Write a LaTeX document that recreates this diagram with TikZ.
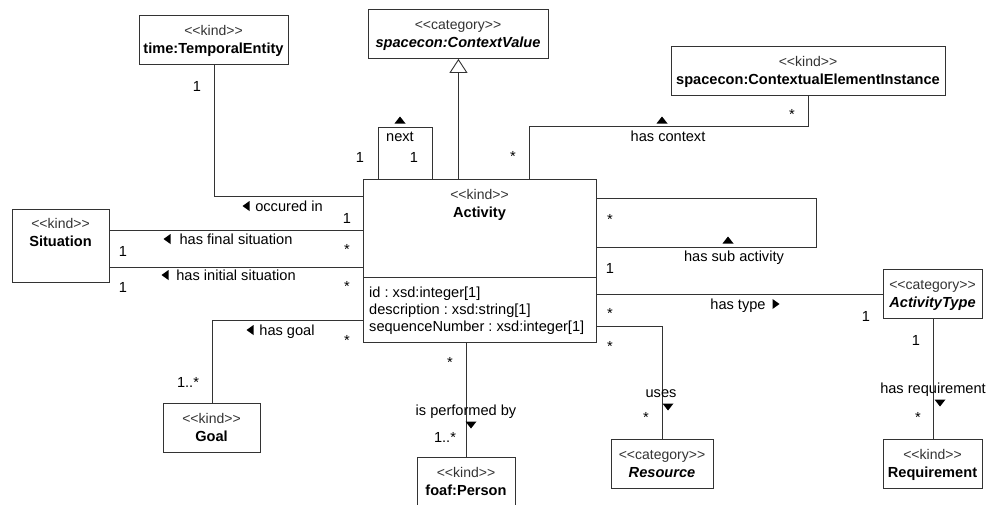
\documentclass[tikz,border=0pt]{standalone}
\usepackage{fontspec}
\setmainfont{Liberation Sans}[Ligatures=TeXOff]
\usetikzlibrary{arrows.meta}
\definecolor{ln}{HTML}{333333}
\frenchspacing
\begin{document}
\begin{tikzpicture}[x=1pt,y=-1pt,font=\fontsize{14.6}{17}\selectfont,
  box/.style={draw=ln,line width=0.9pt,fill=white,inner sep=0pt,anchor=north west},
  base/.style={inner sep=0pt,anchor=mid},
  lbl/.style={base,yshift=-2.5pt},
  st/.style={lbl,text=black!80,font=\fontsize{14}{17}\selectfont},
  nm/.style={lbl,font=\fontsize{14.6}{17}\selectfont\bfseries},
  nmi/.style={lbl,font=\fontsize{14.6}{17}\selectfont\bfseries\itshape},
  star/.style={base,yshift=-4pt},
  conn/.style={draw=ln,line width=0.9pt},
  uptri/.pic={\fill (0,-3.5) -- (-5.5,3.5) -- (5.5,3.5) -- cycle;},
  dntri/.pic={\fill (0,3.5) -- (-5.5,-3.5) -- (5.5,-3.5) -- cycle;},
  lftri/.pic={\fill (-3.5,0) -- (3.5,-5) -- (3.5,5) -- cycle;},
  rttri/.pic={\fill (3.5,0) -- (-3.5,-5) -- (-3.5,5) -- cycle;}
]
\clip (0,0) rectangle (990,504);
\fill[white] (0,0) rectangle (990,504);

% ---------- boxes ----------
\node[box,minimum width=149pt,minimum height=49pt] (time) at (139,15) {};
\node[st] at (213.5,30) {<<kind>>};
\node[nm] at (213.5,48) {time:TemporalEntity};

\node[box,minimum width=180pt,minimum height=49pt] (cv) at (368,9) {};
\node[st] at (458,24) {<<category>>};
\node[nmi] at (458,42) {spacecon:ContextValue};

\node[box,minimum width=274pt,minimum height=49pt] (cei) at (671,46) {};
\node[st] at (808,61) {<<kind>>};
\node[nm] at (808,79) {spacecon:ContextualElementInstance};

\node[box,minimum width=233pt,minimum height=163pt] (act) at (363,179) {};
\draw[conn] (act.west |- 0,277) -- (act.east |- 0,277);
\node[st] at (479.5,194) {<<kind>>};
\node[nm] at (479.5,212) {Activity};
\node[lbl,anchor=mid west] at (369,292) {id : xsd:integer[1]};
\node[lbl,anchor=mid west] at (369,309) {description : xsd:string[1]};
\node[lbl,anchor=mid west] at (369,326) {sequenceNumber : xsd:integer[1]};

\node[box,minimum width=97pt,minimum height=73pt] (sit) at (12,209) {};
\node[st] at (60.5,223) {<<kind>>};
\node[nm] at (60.5,241) {Situation};

\node[box,minimum width=97pt,minimum height=49pt] (goal) at (163,403) {};
\node[st] at (211.5,418) {<<kind>>};
\node[nm] at (211.5,436) {Goal};

\node[box,minimum width=98pt,minimum height=55pt] (per) at (417,457) {};
\node[st] at (466,472) {<<kind>>};
\node[nm] at (466,490) {foaf:Person};

\node[box,minimum width=102pt,minimum height=49pt] (res) at (611,439) {};
\node[st] at (662,454) {<<category>>};
\node[nmi] at (662,472) {Resource};

\node[box,minimum width=99pt,minimum height=49pt] (at) at (883,269) {};
\node[st] at (932.5,284) {<<category>>};
\node[nmi] at (932.5,302) {ActivityType};

\node[box,minimum width=99pt,minimum height=49pt] (req) at (883,439) {};
\node[st] at (932.5,454) {<<kind>>};
\node[nm] at (932.5,472) {Requirement};

% ---------- connectors ----------
% generalization
\draw[conn,-{Triangle[open,width=18pt,length=14pt,fill=white]}] (act.north -| cv.south) -- (cv.south);

% next (self loop)
\draw[conn] (act.north -| 378,0) -- (378,127) -- (432,127) -- (act.north -| 432,0);
\pic at (400,120) {uptri};
\node[lbl] at (400,136) {next};
\node[lbl] at (360,157) {1};
\node[lbl] at (414,157) {1};

% occured in
\draw[conn] (time.south) |- (act.west |- 0,196);
\node[lbl] at (197,86) {1};
\pic at (246,206) {lftri};
\node[lbl] at (289,206) {occured in};
\node[lbl] at (347,218) {1};

% has final situation
\draw[conn] (sit.east |- 0,230) -- (act.west |- 0,230);
\pic at (167,239) {lftri};
\node[lbl] at (236,239) {has final situation};
\node[lbl] at (123,251) {1};
\node[star] at (347,248) {*};

% has initial situation
\draw[conn] (sit.east |- 0,267) -- (act.west |- 0,267);
\pic at (165,275) {lftri};
\node[lbl] at (236,275) {has initial situation};
\node[lbl] at (123,287) {1};
\node[star] at (347,285) {*};

% has goal
\draw[conn] (act.west |- 0,320) -| (goal.north);
\pic at (250,330) {lftri};
\node[lbl] at (287,330) {has goal};
\node[star] at (347,339) {*};
\node[lbl] at (188,382) {1..*};

% is performed by
\draw[conn] (per.north |- act.south) -- (per.north);
\node[star] at (450,361) {*};
\node[lbl] at (466,410) {is performed by};
\pic at (471,425) {dntri};
\node[lbl] at (445,437) {1..*};

% has context
\draw[conn] (act.north -| 529,0) |- (cei.south |- 0,126) -- (cei.south);
\pic at (662,120) {uptri};
\node[lbl] at (668,136) {has context};
\node[star] at (792,113) {*};
\node[star] at (513,155) {*};

% has sub activity
\draw[conn] (act.east |- 0,198) -| (816,247) -- (act.east |- 0,247);
\pic at (728,240) {uptri};
\node[lbl] at (734,256) {has sub activity};
\node[star] at (610,218) {*};
\node[lbl] at (610,268) {1};

% has type
\draw[conn] (act.east |- 0,294) -- (at.west |- 0,294);
\node[lbl] at (738,304) {has type};
\pic at (776,304) {rttri};
\node[star] at (610,312) {*};
\node[lbl] at (866,316) {1};

% uses
\draw[conn] (act.east |- 0,326) -| (res.north);
\node[star] at (610,345) {*};
\node[lbl] at (661,392) {uses};
\pic at (668,407) {dntri};
\node[star] at (646,416) {*};

% has requirement
\draw[conn] (at.south) -- (req.north);
\node[lbl] at (916,340) {1};
\node[lbl] at (933,388) {has requirement};
\pic at (940,403) {dntri};
\node[star] at (918,416) {*};
\end{tikzpicture}
\end{document}
